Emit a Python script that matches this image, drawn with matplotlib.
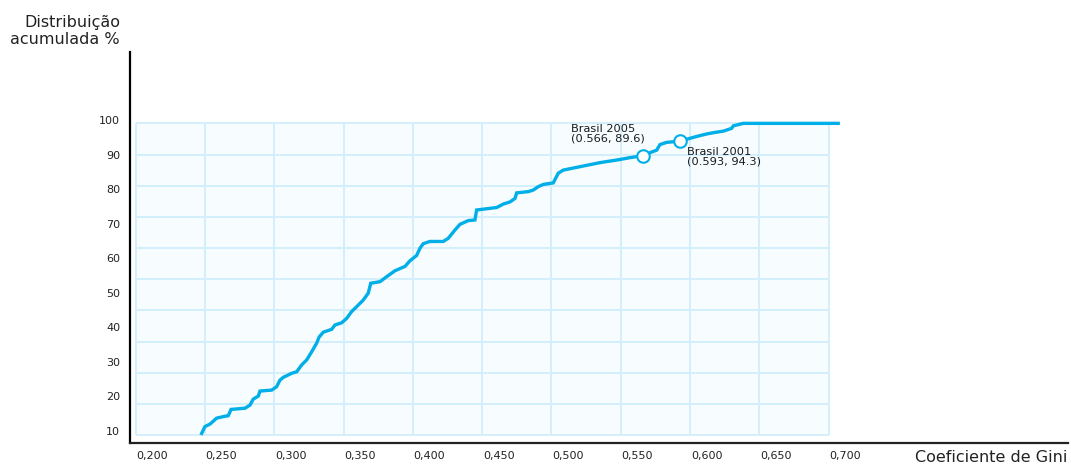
import matplotlib
matplotlib.use('Agg')
import matplotlib.pyplot as plt
import numpy as np
from matplotlib.transforms import ScaledTranslation

# cumulative distribution of the Gini coefficient
gini = [0.2476, 0.2500, 0.2536, 0.2584, 0.2632, 0.2668, 0.2688, 0.2789, 0.2825,
        0.2848, 0.2885, 0.2897, 0.2981, 0.3017, 0.3041, 0.3065, 0.3126, 0.3162,
        0.3198, 0.3234, 0.3270, 0.3306, 0.3323, 0.3354, 0.3414, 0.3438, 0.3486,
        0.3522, 0.3558, 0.3595, 0.3642, 0.3678, 0.3696, 0.3763, 0.3811, 0.3871,
        0.3943, 0.3979, 0.4027, 0.4051, 0.4075, 0.4123, 0.4219, 0.4255, 0.4304,
        0.4340, 0.4400, 0.4448, 0.4460, 0.4605, 0.4652, 0.4701, 0.4737, 0.4749,
        0.4833, 0.4869, 0.4905, 0.4941, 0.5013, 0.5049, 0.5085, 0.5206, 0.5350,
        0.5494, 0.5566, 0.5660, 0.5711, 0.5759, 0.5783, 0.5831, 0.5930, 0.5975,
        0.6048, 0.6120, 0.6167, 0.6240, 0.6300, 0.6312, 0.6384, 0.7069]
cum_pct = [0.5, 2.7, 3.5, 5.4, 5.9, 6.2, 8.2, 8.6, 9.6,
           11.5, 12.5, 14.1, 14.4, 15.5, 17.6, 18.5, 19.8, 20.3,
           22.5, 24.1, 26.7, 29.5, 31.4, 33.0, 33.9, 35.3, 36.0,
           37.4, 39.6, 41.2, 43.3, 45.5, 48.7, 49.2, 50.8, 52.7,
           54.1, 55.9, 57.6, 59.9, 61.4, 62.1, 62.1, 63.1, 65.8,
           67.6, 68.8, 69.0, 72.2, 73.0, 74.1, 74.8, 75.9, 77.7,
           78.1, 78.6, 79.7, 80.4, 80.9, 84.0, 85.0, 86.1, 87.4,
           88.4, 89.0, 89.6, 90.6, 91.4, 93.2, 93.9, 94.3, 94.9,
           95.8, 96.6, 97.0, 97.5, 98.4, 99.2, 100.0, 100.0]

brasil_labels = ['Brasil 2005', 'Brasil 2001']
brasil_gini = [0.566, 0.593]
brasil_pct = [89.6, 94.3]

x_ticks = [0.20, 0.25, 0.30, 0.35, 0.40, 0.45, 0.50, 0.55, 0.60, 0.65, 0.70]
x_labels = ['0,200', '0,250', '0,300', '0,350', '0,400', '0,450',
            '0,500', '0,550', '0,600', '0,650', '0,700']
y_grid = [0, 10, 20, 30, 40, 50, 60, 70, 80, 90, 100]
y_labels = ['10', '20', '30', '40', '50', '60', '70', '80', '90', '100']

line_color = '#00aee8'
grid_color = '#d4effc'
fill_color = '#f7fcfe'

fig = plt.figure(figsize=(10.71, 4.66), dpi=100)
ax = fig.add_axes([130 / 1071, 23 / 466, 938 / 1071, 391 / 466])
ax.set_xlim(0.1959, 0.8727)
ax.set_ylim(-2.57, 122.9)

# light blue grid box
ax.fill_between([x_ticks[0], x_ticks[-1]], y_grid[0], y_grid[-1],
                color=fill_color, lw=0, zorder=0)
ax.vlines(x_ticks, y_grid[0], y_grid[-1], color=grid_color, lw=1.4, zorder=1)
ax.hlines(y_grid, x_ticks[0], x_ticks[-1], color=grid_color, lw=1.4, zorder=1)

ax.plot(gini, cum_pct, color=line_color, lw=2.4, zorder=3,
        solid_joinstyle='miter')

ax.plot(brasil_gini, brasil_pct, 'o', ms=9, mfc='white', mec=line_color,
        mew=1.5, zorder=4)
ax.annotate(brasil_labels[0] + '\n(%.3f, %.1f)' % (brasil_gini[0], brasil_pct[0]),
            (brasil_gini[0], brasil_pct[0]), xytext=(-52, 9),
            textcoords='offset points', fontsize=8.2, linespacing=0.95,
            ha='left', va='bottom', color='#1a1a1a')
ax.annotate(brasil_labels[1] + '\n(%.3f, %.1f)' % (brasil_gini[1], brasil_pct[1]),
            (brasil_gini[1], brasil_pct[1]), xytext=(4.5, -4),
            textcoords='offset points', fontsize=8.2, linespacing=0.95,
            ha='left', va='top', color='#1a1a1a')

# axes
for s in ['top', 'right']:
    ax.spines[s].set_visible(False)
ax.spines['left'].set_linewidth(1.6)
ax.spines['bottom'].set_linewidth(1.6)
ax.spines['bottom'].set_color('#222222')

ax.set_xticks(x_ticks)
ax.set_xticklabels(x_labels, fontsize=8, color='#222222')
ax.tick_params(axis='x', length=0, pad=6)
shift = ScaledTranslation(16.5 / 100, 0, fig.dpi_scale_trans)
for lab in ax.get_xticklabels():
    lab.set_transform(lab.get_transform() + shift)

# the printed labels do not sit on the grid rows
y_label_pos = [1.3 + i * 11.08 for i in range(len(y_labels))]
ax.set_yticks(y_label_pos)
ax.set_yticklabels(y_labels, fontsize=8, color='#222222')
ax.tick_params(axis='y', length=0, pad=7)

fig.text(120 / 1071, 1 - 31 / 466, 'Distribuição\nacumulada %', ha='right',
         va='center', fontsize=11.5, linespacing=1.2, color='#222222')
fig.text(1067 / 1071, 1 - 458 / 466, 'Coeficiente de Gini', ha='right',
         va='center', fontsize=11.5, color='#222222')

fig.savefig('out.png', dpi=100)
